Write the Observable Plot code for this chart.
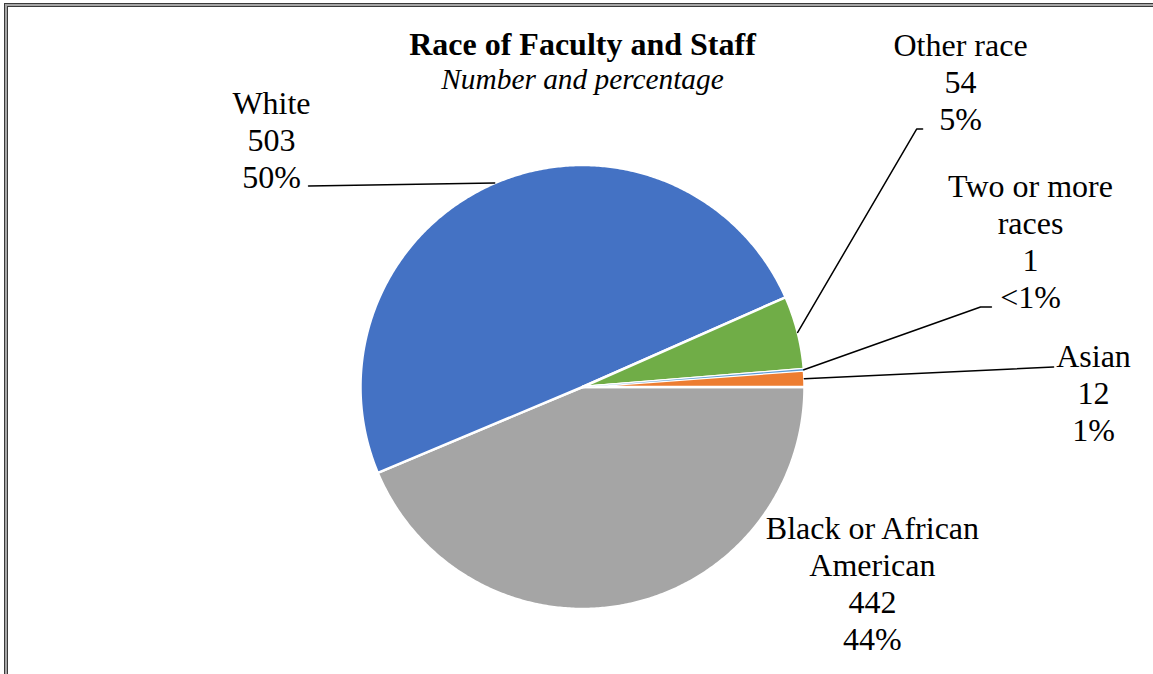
<!DOCTYPE html>
<html>
<head>
<meta charset="utf-8">
<script src="https://cdn.jsdelivr.net/npm/d3@7"></script>
<script src="https://cdn.jsdelivr.net/npm/@observablehq/plot@0.6"></script>
<style>
  html, body { margin: 0; padding: 0; background: #fff; overflow: hidden; }
  #wrap { position: relative; width: 1153px; height: 674px; font-family: "Liberation Serif", "Times New Roman", serif; }
  .frame1 { position: absolute; left: 4px; top: 3px; width: 1300px; height: 900px; border-left: 1px solid #3a3a3a; border-top: 1px solid #3a3a3a; }
  .frame2 { position: absolute; left: 0; top: 0; right: 0; bottom: 0; border-left: 2px solid #a6a6a6; border-top: 2px solid #a6a6a6; }
  .frame3 { position: absolute; left: 0; top: 0; right: 0; bottom: 0; border-left: 1px solid #3a3a3a; border-top: 1px solid #3a3a3a; }
  #chart { position: absolute; left: 0; top: 0; }
  .title { position: absolute; left: 0; width: 1165px; text-align: center; line-height: 32px; font-size: 32px; color: #000; white-space: nowrap; }
  #t1 { top: 28px; font-weight: bold; }
  #t2 { top: 63px; font-style: italic; font-size: 29.33px; }
</style>
</head>
<body>
<div id="wrap">
  <div class="frame1"><div class="frame2"><div class="frame3"></div></div></div>
  <div id="chart"></div>
  <div class="title" id="t1">Race of Faculty and Staff</div>
  <div class="title" id="t2">Number and percentage</div>
</div>
<script>
// ---- data (clockwise from 3 o'clock) ----
const categories = ["Black or African American", "White", "Other race", "Two or more races", "Asian"];
const counts = [442, 503, 54, 1, 12];
const percentLabels = ["44%", "50%", "5%", "<1%", "1%"];
const labelNames = ["Black or African\nAmerican", "White", "Other race", "Two or more\nraces", "Asian"];
const colors = ["#A5A5A5", "#4472C4", "#70AD47", "#5B9BD5", "#ED7D31"];

// ---- layout (unit-circle coordinates) ----
const labelX = [1.306, -1.401, 1.703, 2.018, 2.302];
const labelY = [-0.882, 1.116, 1.379, 0.658, -0.023];
// leader line bends / ends (null = no leader line)
const leaderPts = [
  null,
  [[-1.234, 0.905]],
  [[1.505, 1.162], [1.532, 1.162]],
  [[1.793, 0.360], [1.842, 0.360]],
  [[2.122, 0.090]]
];

const arcs = d3.pie().sort(null).startAngle(Math.PI / 2).endAngle(Math.PI / 2 + 2 * Math.PI)(counts);

function slicePoints(a) {
  const pts = [{x: 0, y: 0}];
  const n = Math.max(2, Math.ceil((a.endAngle - a.startAngle) / (Math.PI / 360)));
  for (let i = 0; i <= n; i++) {
    const t = a.startAngle + (a.endAngle - a.startAngle) * i / n;
    pts.push({x: Math.sin(t), y: Math.cos(t)});
  }
  return pts;
}

const marks = [];
arcs.forEach((a, i) => {
  marks.push(Plot.line(slicePoints(a), {x: "x", y: "y", fill: colors[i], stroke: "white", strokeWidth: 2.5, curve: "linear-closed"}));
});
// very thin slices: repaint fill on top so they remain visible
arcs.forEach((a, i) => {
  if (a.endAngle - a.startAngle < Math.PI / 180) {
    marks.push(Plot.line(slicePoints(a), {x: "x", y: "y", fill: colors[i], stroke: "none", curve: "linear-closed"}));
  }
});
// leader lines
arcs.forEach((a, i) => {
  if (!leaderPts[i]) return;
  const mid = (a.startAngle + a.endAngle) / 2;
  const pts = [{x: Math.sin(mid), y: Math.cos(mid)}, ...leaderPts[i].map(([x, y]) => ({x, y}))];
  marks.push(Plot.line(pts, {x: "x", y: "y", stroke: "black", strokeWidth: 1.5}));
});
// labels
const labels = categories.map((c, i) => ({
  x: labelX[i], y: labelY[i],
  text: `${labelNames[i]}\n${counts[i]}\n${percentLabels[i]}`
}));
marks.push(Plot.text(labels, {
  x: "x", y: "y", text: "text", fontSize: 32, lineHeight: 37 / 32,
  textAnchor: "middle", lineAnchor: "middle", fill: "black",
  fontFamily: "Liberation Serif, Times New Roman, serif"
}));

const chart = Plot.plot({
  width: 1153, height: 674,
  margin: 0,
  x: {domain: [-1, 1], range: [360, 804], axis: null},
  y: {domain: [-1, 1], range: [608.5, 164.5], axis: null},
  style: {background: "transparent", overflow: "visible"},
  marks
});
document.getElementById("chart").appendChild(chart);
</script>
</body>
</html>
